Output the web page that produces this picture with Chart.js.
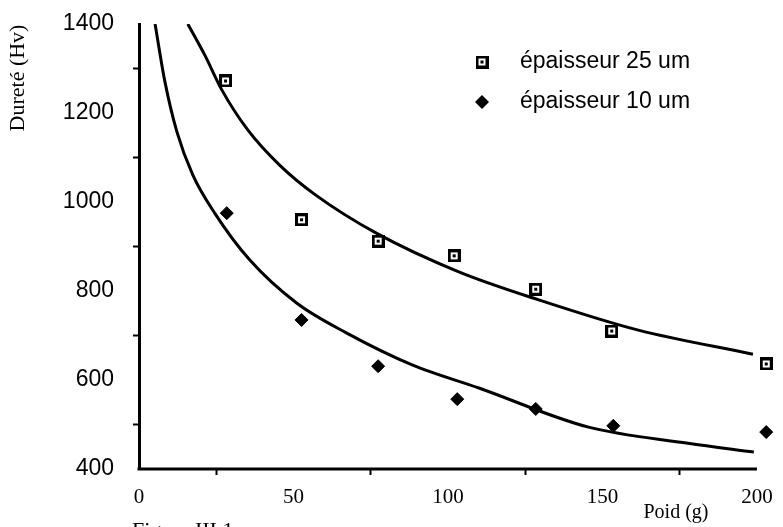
<!DOCTYPE html>
<html>
<head>
<meta charset="utf-8">
<script src="https://cdn.jsdelivr.net/npm/chart.js@4/dist/chart.umd.min.js"></script>
<style>
  body { margin: 0; background: #fff; }
  canvas { display: block; }
</style>
</head>
<body>
<canvas id="chart" width="783" height="527"></canvas>
<script>
// measured points (Poid g, Dureté Hv)
const poid25 = [28, 52.6, 77.4, 102, 128.4, 153, 203];
const durete25 = [1272, 960, 912, 879, 804, 710, 636];
const poid10 = [28.4, 52.6, 77.4, 103, 128.4, 153.5, 203];
const durete10 = [975, 735, 631, 557, 535, 497, 483];

// fitted curves
const curve25X = [15.8, 21.3, 26.8, 35.2, 45.5, 57.1, 76.8, 103.5, 129.4, 161.6, 198.7];
const curve25Y = [1400, 1330, 1252, 1162, 1083, 1016, 930, 843, 780, 712, 658];
const curve10X = [5.2, 8.4, 12.3, 17.4, 24.5, 35.8, 51, 67.1, 88.4, 110, 145.5, 177.7, 199];
const curve10Y = [1400, 1270, 1157, 1061, 975, 870, 773, 706, 634, 582, 494, 458, 438];

const xTicks = [0, 50, 100, 150, 200];
const yTicks = [400, 600, 800, 1000, 1200, 1400];

const pairs = (xs, ys) => xs.map((x, i) => ({ x: x, y: ys[i] }));

// square marker with a dot in the middle
const squareMark = document.createElement('canvas');
squareMark.width = 13;
squareMark.height = 13;
(function () {
    const c = squareMark.getContext('2d');
    c.fillStyle = '#000';
    c.fillRect(0, 0, 13, 13);
    c.fillStyle = '#fff';
    c.fillRect(3, 3, 7, 7);
    c.fillStyle = '#000';
    c.fillRect(5, 5, 3, 3);
})();

const serif = '"Liberation Serif", "Times New Roman", serif';
const sans = '"Liberation Sans", Arial, Helvetica, sans-serif';

const textPlugin = {
    id: 'texts',
    afterDraw(chart) {
        const ctx = chart.ctx;
        const xs = chart.scales.x;
        ctx.save();
        ctx.fillStyle = '#000';

        // x axis line, stops at the last label
        ctx.strokeStyle = '#000';
        ctx.lineWidth = 3;
        ctx.beginPath();
        ctx.moveTo(xs.getPixelForValue(0) - 1.5, chart.chartArea.bottom);
        ctx.lineTo(xs.getPixelForValue(xTicks[xTicks.length - 1]), chart.chartArea.bottom);
        ctx.stroke();

        // legend
        const rows = [
            { ds: chart.data.datasets[0], y: 62 },
            { ds: chart.data.datasets[1], y: 102 }
        ];
        rows.forEach(r => {
            if (r.ds.pointStyle === squareMark) {
                ctx.drawImage(squareMark, 482 - 6.5, r.y - 6.5);
            } else {
                ctx.beginPath();
                ctx.moveTo(482, r.y - 7);
                ctx.lineTo(489, r.y);
                ctx.lineTo(482, r.y + 7);
                ctx.lineTo(475, r.y);
                ctx.closePath();
                ctx.fill();
            }
            ctx.font = '23px ' + sans;
            ctx.textAlign = 'left';
            ctx.textBaseline = 'middle';
            ctx.fillText(r.ds.label, 520, r.y);
        });

        // axis titles
        ctx.font = '20px ' + serif;
        ctx.textAlign = 'center';
        ctx.textBaseline = 'middle';
        ctx.fillText('Poid (g)', 676, 513);

        ctx.save();
        ctx.translate(18, 78);
        ctx.rotate(-Math.PI / 2);
        ctx.font = '22px ' + serif;
        ctx.fillText('Dureté (Hv)', 0, 0);
        ctx.restore();

        // caption, cut by the page edge
        ctx.font = '22px ' + serif;
        ctx.textAlign = 'left';
        ctx.textBaseline = 'alphabetic';
        ctx.fillText('Figure III.1', 132, 537);
        ctx.restore();
    }
};

new Chart(document.getElementById('chart'), {
    type: 'scatter',
    data: {
        datasets: [
            {
                label: 'épaisseur 25 um',
                data: pairs(poid25, durete25),
                pointStyle: squareMark,
                clip: false,
                order: 1
            },
            {
                label: 'épaisseur 10 um',
                data: pairs(poid10, durete10),
                pointStyle: 'rectRot',
                pointRadius: 6.5,
                backgroundColor: '#000',
                borderColor: '#000',
                borderWidth: 1,
                clip: false,
                order: 1
            },
            {
                label: 'fit 25',
                data: pairs(curve25X, curve25Y),
                showLine: true,
                pointRadius: 0,
                borderColor: '#000',
                borderWidth: 3,
                cubicInterpolationMode: 'monotone',
                order: 2
            },
            {
                label: 'fit 10',
                data: pairs(curve10X, curve10Y),
                showLine: true,
                pointRadius: 0,
                borderColor: '#000',
                borderWidth: 3,
                cubicInterpolationMode: 'monotone',
                order: 2
            }
        ]
    },
    options: {
        responsive: false,
        animation: false,
        devicePixelRatio: 1,
        layout: {
            padding: { left: 0, top: 24, right: 5, bottom: 0 }
        },
        scales: {
            x: {
                type: 'linear',
                min: 0,
                max: 206,
                afterFit: s => { s.height = 58; },
                border: { display: false },
                grid: {
                    drawOnChartArea: false,
                    drawTicks: true,
                    tickLength: 6,
                    tickWidth: 2,
                    tickColor: c => (c.tick && c.tick.value % 50 === 0) ? 'rgba(0,0,0,0)' : '#000'
                },
                ticks: {
                    stepSize: 25,
                    includeBounds: false,
                    autoSkip: false,
                    maxRotation: 0,
                    padding: 10,
                    color: '#000',
                    font: { family: serif, size: 21 },
                    callback: v => xTicks.includes(v) ? String(v) : ''
                }
            },
            y: {
                min: 400,
                max: 1400,
                afterFit: s => {
                    s.width = 139;
                    // the label gap should not push the plot down
                    s.paddingTop = 12;
                    s.paddingBottom = 12;
                },
                border: { display: true, color: '#000', width: 3 },
                grid: {
                    drawOnChartArea: false,
                    drawTicks: true,
                    tickLength: 6,
                    tickWidth: 2,
                    tickColor: c => (c.tick && c.tick.value % 200 === 0) ? 'rgba(0,0,0,0)' : '#000'
                },
                ticks: {
                    stepSize: 100,
                    autoSkip: false,
                    padding: 19,
                    color: '#000',
                    font: { family: sans, size: 23 },
                    callback: v => yTicks.includes(v) ? String(v) : ''
                }
            }
        },
        plugins: {
            legend: { display: false },
            tooltip: { enabled: false }
        }
    },
    plugins: [textPlugin]
});
</script>
</body>
</html>
